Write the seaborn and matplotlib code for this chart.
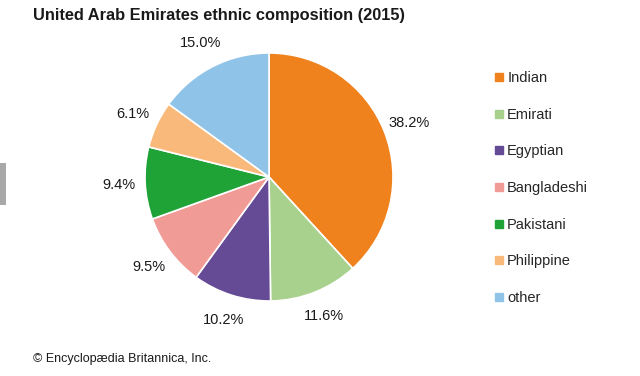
import matplotlib
matplotlib.use("Agg")
import matplotlib.pyplot as plt
from matplotlib.lines import Line2D
from matplotlib.patches import Rectangle
import seaborn as sns

# UAE ethnic composition, 2015 (percent of population)
groups = ["Indian", "Emirati", "Egyptian", "Bangladeshi", "Pakistani", "Philippine", "other"]
shares = [38.2, 11.6, 10.2, 9.5, 9.4, 6.1, 15.0]
colors = ["#F0821E", "#A9D18E", "#654A96", "#F19B96", "#1FA337", "#F9B97A", "#8FC3E8"]

sns.set_theme(style="white")
plt.rcParams["font.family"] = ["Liberation Sans", "DejaVu Sans"]
palette = sns.color_palette(colors)

fig = plt.figure(figsize=(6.4, 3.76), dpi=100)
ax = fig.add_axes([0.2266, 0.1995, 0.3875, 0.6596])

wedges, texts, autotexts = ax.pie(
    shares, colors=palette, startangle=90, counterclock=False,
    autopct="%.1f%%", pctdistance=1.21,
    wedgeprops=dict(edgecolor="white", linewidth=1.2),
    textprops=dict(fontsize=10.5, color="#1a1a1a"),
)
ax.set_xlim(-1.0, 1.0)
ax.set_ylim(-1.0, 1.0)
ax.set_aspect("equal")

# legend with small square markers
handles = [Line2D([0], [0], marker="s", linestyle="", markersize=5.5,
                  markerfacecolor=c, markeredgecolor=c) for c in colors]
fig.legend(handles, groups, loc="upper left", bbox_to_anchor=(0.764, 0.826),
           frameon=False, fontsize=10.5, handlelength=0.6, handletextpad=0.25,
           labelspacing=1.55, borderaxespad=0)

fig.text(0.052, 0.96, "United Arab Emirates ethnic composition (2015)",
         fontsize=11.8, fontweight="bold", va="center", ha="left", color="#1a1a1a")
fig.text(0.052, 0.045, "\u00a9 Encyclop\u00e6dia Britannica, Inc.",
         fontsize=9, va="center", ha="left", color="#1a1a1a")

# grey tab on the left edge of the source image
fig.patches.append(Rectangle((0, 0.455), 0.009, 0.112, transform=fig.transFigure,
                             facecolor="#a8a8a8", edgecolor="none"))

fig.savefig("out.png", dpi=100)
